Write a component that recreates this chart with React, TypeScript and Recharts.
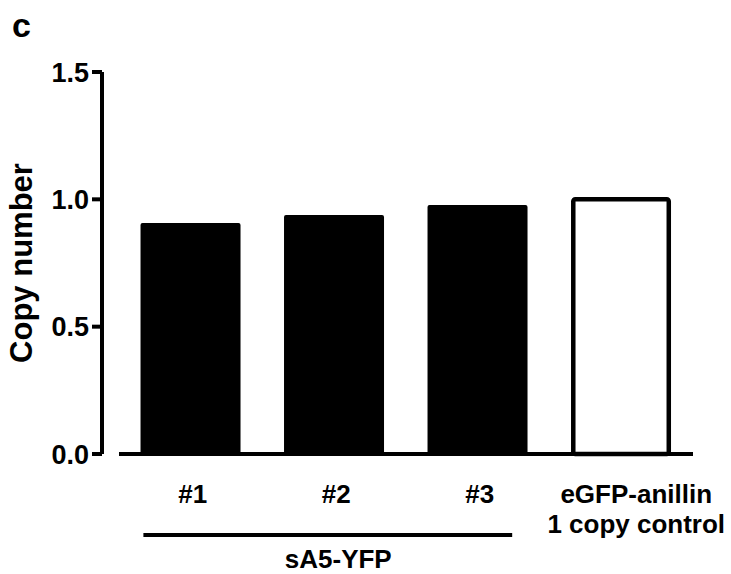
import React from "react";
import { BarChart, Bar, XAxis, YAxis } from "recharts";

// values
const categories = ["#1", "#2", "#3", "eGFP-anillin\n1 copy control"];
const copyNumbers = [0.907, 0.938, 0.978, 1.0];
const isControl = [false, false, false, true];
const yTicks = [0, 0.5, 1.0, 1.5];
const groupLabel = "sA5-YFP";
const groupSize = 3; // #1..#3 belong to sA5-YFP

const data = categories.map((name, i) => ({
  name,
  value: copyNumbers[i],
  control: isControl[i],
}));

const W = 731;
const H = 574;
const MARGIN = { top: 72, right: 38, bottom: 0, left: 0 };
const Y_AXIS_W = 102;
const X_PAD_LEFT = 17;
const BAND = (W - MARGIN.right - MARGIN.left - Y_AXIS_W - X_PAD_LEFT) / categories.length;

const FONT = "'Liberation Sans', Arial, Helvetica, sans-serif";

function XTick(props: any) {
  const { x, y, payload, index } = props;
  const lines = String(payload.value).split("\n");
  const dx = lines.length > 1 ? 15 : 2;
  return (
    <g>
      <text
        x={x + dx}
        y={y + 49}
        textAnchor="middle"
        fontFamily={FONT}
        fontWeight="bold"
        fontSize={26}
        fill="#000"
      >
        {lines.map((l, i) => (
          <tspan key={i} x={x + dx} dy={i === 0 ? 0 : 30}>
            {l}
          </tspan>
        ))}
      </text>
      {index === 0 && (
        <g>
          <line
            x1={x - 0.33 * BAND}
            x2={x + (groupSize - 1) * BAND + 0.24 * BAND}
            y1={y + 81}
            y2={y + 81}
            stroke="#000"
            strokeWidth={4}
          />
          <text
            x={x + BAND + 4}
            y={y + 114}
            textAnchor="middle"
            fontFamily={FONT}
            fontWeight="bold"
            fontSize={26}
            fill="#000"
          >
            {groupLabel}
          </text>
        </g>
      )}
    </g>
  );
}

function BarShape(props: any) {
  const { x, y, width, height, payload } = props;
  if (payload.control) {
    const sw = 4.5;
    return (
      <rect
        x={x + sw / 2}
        y={y}
        width={width - sw}
        height={height}
        rx={2}
        fill="#fff"
        stroke="#000"
        strokeWidth={sw}
      />
    );
  }
  return <rect x={x} y={y} width={width} height={height} rx={2} fill="#000" />;
}

export default function App() {
  return (
    <div style={{ position: "absolute", left: 0, top: 0, width: W, height: H, background: "#fff" }}>
      <div
        style={{
          position: "absolute",
          left: 12,
          top: 8,
          fontFamily: FONT,
          fontWeight: "bold",
          fontSize: 34,
          lineHeight: "34px",
          color: "#000",
        }}
      >
        c
      </div>
      <BarChart width={W} height={H} data={data} margin={MARGIN} barCategoryGap="15%">
        <XAxis
          dataKey="name"
          height={120}
          padding={{ left: X_PAD_LEFT, right: 0 }}
          interval={0}
          tickLine={false}
          tickSize={0}
          tickMargin={0}
          axisLine={{ stroke: "#000", strokeWidth: 4, strokeDasharray: `0 ${X_PAD_LEFT} 2000` }}
          tick={<XTick />}
        />
        <YAxis
          width={Y_AXIS_W}
          domain={[0, 1.5]}
          ticks={yTicks}
          tickFormatter={(v: number) => v.toFixed(1)}
          tickSize={10}
          tickMargin={3}
          axisLine={{ stroke: "#000", strokeWidth: 4 }}
          tickLine={{ stroke: "#000", strokeWidth: 4 }}
          tick={{ fontSize: 27, fontWeight: "bold", fill: "#000", fontFamily: FONT }}
          label={{
            value: "Copy number",
            angle: -90,
            position: "insideLeft",
            offset: 21,
            style: { textAnchor: "middle", fontSize: 31, fontWeight: "bold", fill: "#000", fontFamily: FONT },
          }}
        />
        <Bar dataKey="value" isAnimationActive={false} shape={<BarShape />} />
      </BarChart>
    </div>
  );
}
